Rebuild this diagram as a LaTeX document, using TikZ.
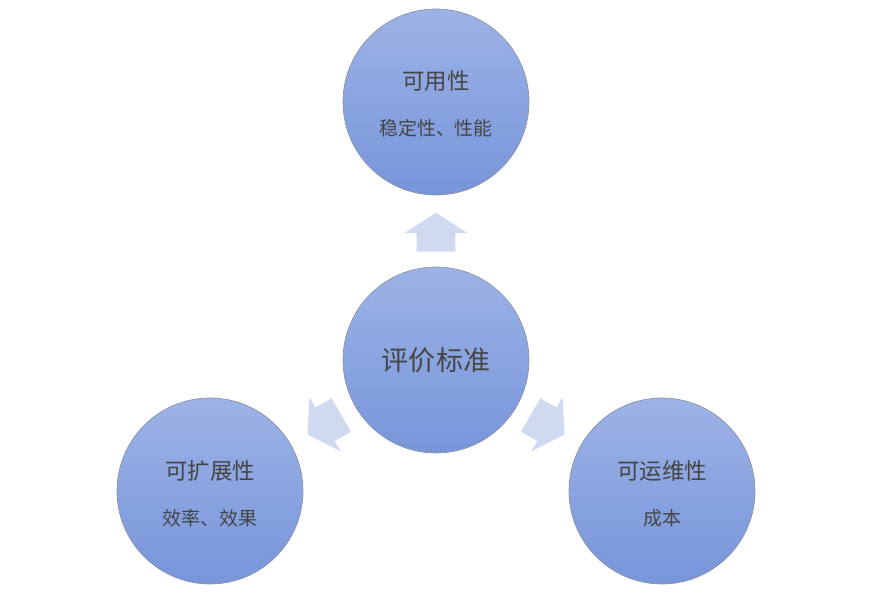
\documentclass[tikz,border=0pt]{standalone}
\usepackage{fontspec}
\setmainfont{Noto Sans CJK SC}
\usetikzlibrary{shapes.arrows, calc}

\definecolor{circtop}{HTML}{9DB3E7}
\definecolor{circbot}{HTML}{7795DA}
\definecolor{circline}{HTML}{8C93A8}
\definecolor{arrfill}{HTML}{CFD9EF}
\definecolor{txtgray}{HTML}{454545}

\begin{document}
\begin{tikzpicture}[
  x=0.02cm, y=-0.02cm,
  crit/.style={circle, draw=circline, line width=0.4pt, top color=circtop, bottom color=circbot,
    minimum size=3.72cm, inner sep=0pt, align=center, text=txtgray},
  title/.style={font=\fontsize{12.8}{14}\selectfont, text=txtgray},
  sub/.style={font=\fontsize{10.8}{12}\selectfont, text=txtgray},
  blockarr/.style={single arrow, draw=none, fill=arrfill, inner xsep=0pt, inner ysep=0.38cm,
    minimum height=0.78cm, single arrow head extend=0.24cm, single arrow tip angle=114}
]
\useasboundingbox (0,0) rectangle (870,597);

% ===== CIRCLES =====
\node[crit, font=\fontsize{15.4}{17}\selectfont] (std) at (436,360) {评价标准};
\node[crit] (avail) at (436,102) {};
\node[crit] (scal) at (210,491) {};
\node[crit] (ops) at (662,491) {};

% texts inside
\node[title] (avail-t) at (436,81) {可用性};
\node[sub] (avail-s) at (436,128) {稳定性、性能};
\node[title] (scal-t) at (210,471) {可扩展性};
\node[sub] (scal-s) at (210,518) {效率、效果};
\node[title] (ops-t) at (662,471) {可运维性};
\node[sub] (ops-s) at (662,518) {成本};

% ===== ARROWS =====
\node[blockarr, rotate=90] (a1) at ($(std)!0.471!(avail)$) {};
\node[blockarr, rotate=210] (a2) at ($(std)!0.47!(scal)$) {};
\node[blockarr, rotate=-30] (a3) at ($(std)!0.47!(ops)$) {};
\end{tikzpicture}
\end{document}
